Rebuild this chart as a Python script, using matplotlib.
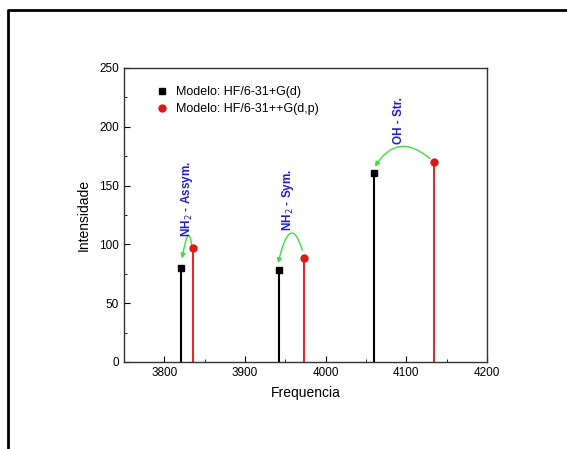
import matplotlib.pyplot as plt
from matplotlib.lines import Line2D
from matplotlib.patches import FancyArrowPatch
from matplotlib.path import Path

plt.rcParams['font.family'] = ['Liberation Sans', 'DejaVu Sans']

# frequencias e intensidades
freq_hf = [3821, 3942, 4060]
int_hf = [80, 78, 161]
freq_hfp = [3835, 3973, 4134]
int_hfp = [97, 88, 170]

labels = ["NH$_2$ - Assym.", "NH$_2$ - Sym.", "OH - Str."]
label_pos = [(3828, 139), (3953, 138), (4091, 205)]
# setas curvas: inicio (vermelho), topo, fim (preto)
arrows = [((3834, 99), (3829, 107), (3822, 88)),
          ((3971, 95), (3956, 109), (3941, 84)),
          ((4129, 173), (4092, 183), (4061, 166))]

fig = plt.figure(figsize=(5.67, 4.49), dpi=100)
ax = fig.add_axes([0.2187, 0.1938, 0.859 - 0.2187, 0.8486 - 0.1938])

ax.vlines(freq_hf, 0, int_hf, color='black', lw=1.5)
ax.vlines(freq_hfp, 0, int_hfp, color='#d83030', lw=1.5)
ax.plot(freq_hf, int_hf, 's', color='black', ms=5, label='Modelo: HF/6-31+G(d)')
ax.plot(freq_hfp, int_hfp, 'o', color='#e01818', ms=5, label='Modelo: HF/6-31++G(d,p)')

for txt, (x, y) in zip(labels, label_pos):
    ax.text(x, y, txt, rotation=90, ha='center', va='center', color='#2020c8',
            fontsize=8.5, fontweight='bold')

for (p0, top, p2) in arrows:
    # ponto de controle da bezier quadratica que passa pelo topo
    cx = 2 * top[0] - 0.5 * (p0[0] + p2[0])
    cy = 2 * top[1] - 0.5 * (p0[1] + p2[1])
    path = Path([p0, (cx, cy), p2], [Path.MOVETO, Path.CURVE3, Path.CURVE3])
    arr = FancyArrowPatch(path=path, arrowstyle='-|>', color='#40dd40', lw=1,
                          mutation_scale=7, transform=ax.transData)
    ax.add_patch(arr)

ax.set_xlim(3750, 4200)
ax.set_ylim(0, 250)
ax.set_xticks([3800, 3900, 4000, 4100, 4200])
ax.set_xticks([3850, 3950, 4050, 4150], minor=True)
ax.set_yticks([0, 50, 100, 150, 200, 250])
ax.set_yticks([25, 75, 125, 175, 225], minor=True)
ax.tick_params(which='both', direction='in', labelsize=8.5)
ax.tick_params(which='major', length=4)
ax.tick_params(which='minor', length=2)
ax.set_xlabel('Frequencia', fontsize=10, labelpad=5)
ax.set_ylabel('Intensidade', fontsize=10, labelpad=6)
for s in ax.spines.values():
    s.set_linewidth(1.0)
    s.set_color('#333333')

ax.legend(loc='upper left', bbox_to_anchor=(0.075, 0.955), frameon=False, fontsize=9,
          handletextpad=0.6, borderaxespad=0, labelspacing=0.4, handlelength=1.0)

# moldura da figura (topo e esquerda)
fig.add_artist(Line2D([8 / 567, 8 / 567, 1.0], [0.0, 1 - 10 / 449, 1 - 10 / 449],
                      transform=fig.transFigure, color='black', lw=2))

fig.savefig('out.png', dpi=100)
